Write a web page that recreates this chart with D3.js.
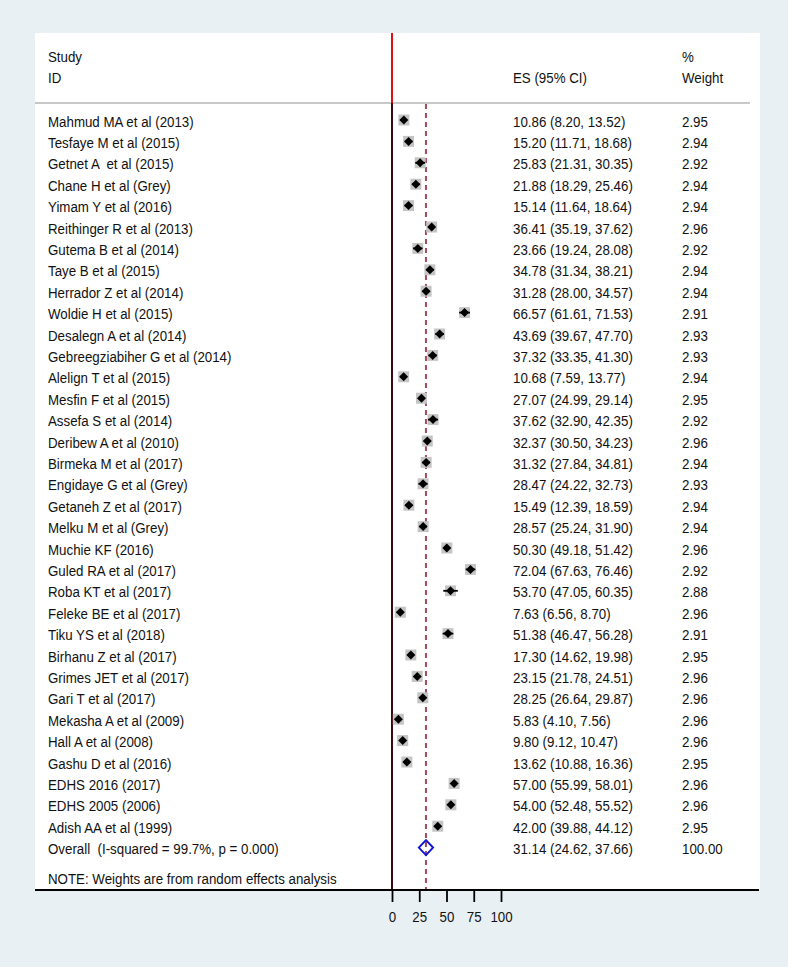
<!DOCTYPE html>
<html>
<head>
<meta charset="utf-8">
<script src="https://cdn.jsdelivr.net/npm/d3@7"></script>
<style>
  html, body { margin: 0; padding: 0; background: #e9f0f4; }
  svg { display: block; }
  text { font-family: "Liberation Sans", Arial, Helvetica, sans-serif; fill: #111; white-space: pre; }
</style>
</head>
<body>
<svg id="chart" width="788" height="967"></svg>
<script>
// ---------------- data ----------------
const studies = [
  "Mahmud MA et al (2013)", "Tesfaye M et al (2015)", "Getnet A  et al (2015)", "Chane H et al (Grey)",
  "Yimam Y et al (2016)", "Reithinger R et al (2013)", "Gutema B et al (2014)", "Taye B et al (2015)",
  "Herrador Z et al (2014)", "Woldie H et al (2015)", "Desalegn A et al (2014)", "Gebreegziabiher G et al (2014)",
  "Alelign T et al (2015)", "Mesfin F et al (2015)", "Assefa S et al (2014)", "Deribew A et al (2010)",
  "Birmeka M et al (2017)", "Engidaye G et al (Grey)", "Getaneh Z et al (2017)", "Melku M et al (Grey)",
  "Muchie KF (2016)", "Guled RA et al (2017)", "Roba KT et al (2017)", "Feleke BE et al (2017)",
  "Tiku YS et al (2018)", "Birhanu Z et al (2017)", "Grimes JET et al (2017)", "Gari T et al (2017)",
  "Mekasha A et al (2009)", "Hall A et al (2008)", "Gashu D et al (2016)", "EDHS 2016 (2017)",
  "EDHS 2005 (2006)", "Adish AA et al (1999)"
];
const es = [10.86, 15.20, 25.83, 21.88, 15.14, 36.41, 23.66, 34.78, 31.28, 66.57, 43.69, 37.32, 10.68, 27.07,
  37.62, 32.37, 31.32, 28.47, 15.49, 28.57, 50.30, 72.04, 53.70, 7.63, 51.38, 17.30, 23.15, 28.25, 5.83, 9.80,
  13.62, 57.00, 54.00, 42.00];
const lower = [8.20, 11.71, 21.31, 18.29, 11.64, 35.19, 19.24, 31.34, 28.00, 61.61, 39.67, 33.35, 7.59, 24.99,
  32.90, 30.50, 27.84, 24.22, 12.39, 25.24, 49.18, 67.63, 47.05, 6.56, 46.47, 14.62, 21.78, 26.64, 4.10, 9.12,
  10.88, 55.99, 52.48, 39.88];
const upper = [13.52, 18.68, 30.35, 25.46, 18.64, 37.62, 28.08, 38.21, 34.57, 71.53, 47.70, 41.30, 13.77, 29.14,
  42.35, 34.23, 34.81, 32.73, 18.59, 31.90, 51.42, 76.46, 60.35, 8.70, 56.28, 19.98, 24.51, 29.87, 7.56, 10.47,
  16.36, 58.01, 55.52, 44.12];
const weights = ["2.95", "2.94", "2.92", "2.94", "2.94", "2.96", "2.92", "2.94", "2.94", "2.91", "2.93", "2.93",
  "2.94", "2.95", "2.92", "2.96", "2.94", "2.93", "2.94", "2.94", "2.96", "2.92", "2.88", "2.96", "2.91", "2.95",
  "2.96", "2.96", "2.96", "2.96", "2.95", "2.96", "2.96", "2.95"];
const overallLabel = "Overall  (I-squared = 99.7%, p = 0.000)";
const overall = { es: 31.14, lower: 24.62, upper: 37.66, weight: "100.00" };
const tickValues = [0, 25, 50, 75, 100];
const noteText = "NOTE: Weights are from random effects analysis";

// ---------------- layout ----------------
const svg = d3.select("#chart");
const panel = { left: 35, top: 33, right: 760, bottom: 890 };
const x = d3.scaleLinear().domain([0, 100]).range([392, 501]);
const rowIdx = d3.range(studies.length + 1);
const y = d3.scalePoint().domain(rowIdx).range([120, 847.6]);
const boxSize = d3.scaleSqrt().domain([0, 2.96]).range([0, 11]);
const fmt = d3.format(".2f");
const FS = 14.8, SX = 0.9;

function txt(g, tx, ty, s, anchor) {
  return g.append("text")
    .attr("transform", `translate(${tx},${ty}) scale(${SX},1)`)
    .attr("text-anchor", anchor || "start")
    .attr("xml:space", "preserve")
    .style("font-size", FS + "px")
    .text(s);
}

// panel
svg.append("rect")
  .attr("x", panel.left).attr("y", panel.top)
  .attr("width", panel.right - panel.left).attr("height", panel.bottom - panel.top)
  .attr("fill", "#ffffff");

// header
const hdr = svg.append("g");
txt(hdr, 48, 62, "Study");
txt(hdr, 48, 83, "ID");
txt(hdr, 513, 83, "ES (95% CI)");
txt(hdr, 682, 62, "%");
txt(hdr, 682, 83, "Weight");
svg.append("line").attr("x1", panel.left).attr("x2", 750).attr("y1", 103).attr("y2", 103)
  .attr("stroke", "#c8c8c8").attr("stroke-width", 2);

// null line
svg.append("line").attr("x1", x(0)).attr("x2", x(0)).attr("y1", panel.top).attr("y2", 103)
  .attr("stroke", "#e01010").attr("stroke-width", 2);
svg.append("line").attr("x1", x(0)).attr("x2", x(0)).attr("y1", 103).attr("y2", panel.bottom)
  .attr("stroke", "#3c0a0a").attr("stroke-width", 2);

// overall dashed line
svg.append("line").attr("x1", x(overall.es)).attr("x2", x(overall.es)).attr("y1", 104).attr("y2", panel.bottom)
  .attr("stroke", "#a24a5c").attr("stroke-width", 2).attr("stroke-dasharray", "5,4");

// study rows
const rows = svg.append("g");
studies.forEach((s, i) => {
  const cy = y(i);
  txt(rows, 48, cy + 6.5, s);
  txt(rows, 513, cy + 6.5, `${fmt(es[i])} (${fmt(lower[i])}, ${fmt(upper[i])})`);
  txt(rows, 682, cy + 6.5, weights[i]);
  const b = boxSize(+weights[i]);
  rows.append("rect")
    .attr("x", x(es[i]) - b / 2).attr("y", cy - b / 2)
    .attr("width", b).attr("height", b)
    .attr("fill", "#c4c4c4");
  rows.append("line")
    .attr("x1", x(lower[i])).attr("x2", x(upper[i])).attr("y1", cy).attr("y2", cy)
    .attr("stroke", "#000").attr("stroke-width", 1.8);
  const d = 4.5;
  rows.append("path")
    .attr("d", `M${x(es[i]) - d},${cy} L${x(es[i])},${cy - d} L${x(es[i]) + d},${cy} L${x(es[i])},${cy + d} Z`)
    .attr("fill", "#000");
});

// overall row
const oy = y(studies.length);
txt(rows, 48, oy + 6.5, overallLabel);
txt(rows, 513, oy + 6.5, `${fmt(overall.es)} (${fmt(overall.lower)}, ${fmt(overall.upper)})`);
txt(rows, 682, oy + 6.5, overall.weight);
const hh = 7.5;
rows.append("path")
  .attr("d", `M${x(overall.lower)},${oy} L${x(overall.es)},${oy - hh} L${x(overall.upper)},${oy} L${x(overall.es)},${oy + hh} Z`)
  .attr("fill", "none").attr("stroke", "#1414d8").attr("stroke-width", 2);

// note
txt(svg, 48, 884, noteText);

// axis
svg.append("line").attr("x1", panel.left).attr("x2", panel.right - 1).attr("y1", panel.bottom).attr("y2", panel.bottom)
  .attr("stroke", "#000").attr("stroke-width", 2);
const axis = d3.axisBottom(x).tickValues(tickValues).tickSize(12).tickPadding(9.5).tickFormat(d3.format("d"));
const ag = svg.append("g").attr("transform", `translate(0,${panel.bottom})`).call(axis);
ag.select(".domain").remove();
ag.selectAll(".tick line").attr("stroke", "#000").attr("stroke-width", 1.8);
ag.selectAll(".tick text")
  .style("font-size", FS + "px")
  .style("font-family", '"Liberation Sans", Arial, sans-serif')
  .attr("fill", "#111")
  .attr("transform", `scale(${SX},1)`)
  .attr("x", 0);
</script>
</body>
</html>
